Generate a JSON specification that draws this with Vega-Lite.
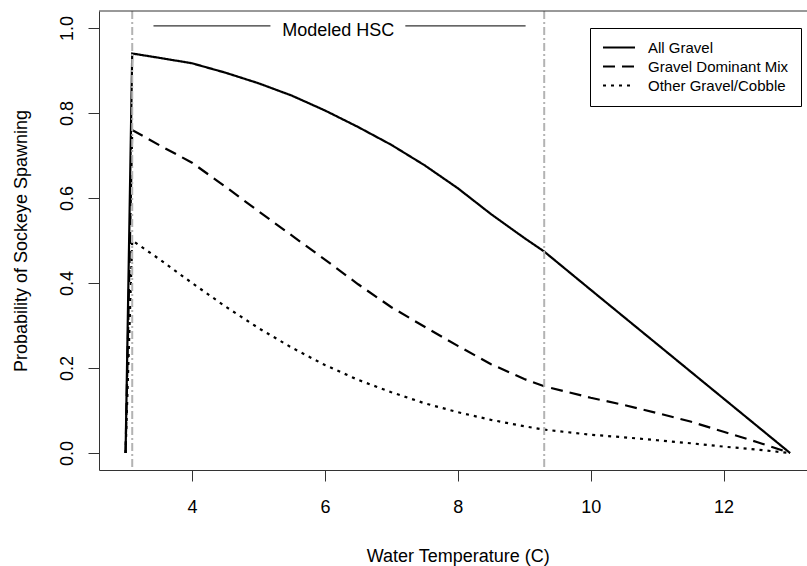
{
  "$schema": "https://vega.github.io/schema/vega-lite/v6.json",
  "width": 708,
  "height": 459,
  "autosize": {"type": "none"},
  "padding": {"left": 99, "top": 11, "right": 0, "bottom": 96},
  "background": "white",
  "config": {
    "view": {"stroke": null},
    "font": "Liberation Sans",
    "axis": {
      "domainColor": "#333333",
      "tickColor": "#333333",
      "labelColor": "black",
      "titleColor": "black",
      "labelFont": "Liberation Sans",
      "titleFont": "Liberation Sans",
      "labelFontSize": 18,
      "titleFontSize": 18,
      "titleFontWeight": "normal",
      "tickSize": 11,
      "grid": false
    },
    "legend": {"labelFont": "Liberation Sans"}
  },
  "datasets": {
    "curves": [
      {"temp": 3.0, "prob": 0.0, "series": "All Gravel"},
      {"temp": 3.1, "prob": 0.94, "series": "All Gravel"},
      {"temp": 3.5, "prob": 0.93, "series": "All Gravel"},
      {"temp": 4.0, "prob": 0.917, "series": "All Gravel"},
      {"temp": 4.5, "prob": 0.895, "series": "All Gravel"},
      {"temp": 5.0, "prob": 0.87, "series": "All Gravel"},
      {"temp": 5.5, "prob": 0.841, "series": "All Gravel"},
      {"temp": 6.0, "prob": 0.806, "series": "All Gravel"},
      {"temp": 6.5, "prob": 0.767, "series": "All Gravel"},
      {"temp": 7.0, "prob": 0.725, "series": "All Gravel"},
      {"temp": 7.5, "prob": 0.677, "series": "All Gravel"},
      {"temp": 8.0, "prob": 0.623, "series": "All Gravel"},
      {"temp": 8.5, "prob": 0.562, "series": "All Gravel"},
      {"temp": 9.0, "prob": 0.506, "series": "All Gravel"},
      {"temp": 9.3, "prob": 0.474, "series": "All Gravel"},
      {"temp": 10.0, "prob": 0.384, "series": "All Gravel"},
      {"temp": 11.0, "prob": 0.256, "series": "All Gravel"},
      {"temp": 12.0, "prob": 0.128, "series": "All Gravel"},
      {"temp": 13.0, "prob": 0.0, "series": "All Gravel"},
      {"temp": 3.0, "prob": 0.0, "series": "Gravel Dominant Mix"},
      {"temp": 3.1, "prob": 0.76, "series": "Gravel Dominant Mix"},
      {"temp": 3.5, "prob": 0.725, "series": "Gravel Dominant Mix"},
      {"temp": 4.0, "prob": 0.683, "series": "Gravel Dominant Mix"},
      {"temp": 4.5, "prob": 0.627, "series": "Gravel Dominant Mix"},
      {"temp": 5.0, "prob": 0.569, "series": "Gravel Dominant Mix"},
      {"temp": 5.5, "prob": 0.512, "series": "Gravel Dominant Mix"},
      {"temp": 6.0, "prob": 0.455, "series": "Gravel Dominant Mix"},
      {"temp": 6.5, "prob": 0.397, "series": "Gravel Dominant Mix"},
      {"temp": 7.0, "prob": 0.343, "series": "Gravel Dominant Mix"},
      {"temp": 7.5, "prob": 0.297, "series": "Gravel Dominant Mix"},
      {"temp": 8.0, "prob": 0.252, "series": "Gravel Dominant Mix"},
      {"temp": 8.5, "prob": 0.209, "series": "Gravel Dominant Mix"},
      {"temp": 9.0, "prob": 0.174, "series": "Gravel Dominant Mix"},
      {"temp": 9.3, "prob": 0.157, "series": "Gravel Dominant Mix"},
      {"temp": 10.0, "prob": 0.13, "series": "Gravel Dominant Mix"},
      {"temp": 10.5, "prob": 0.113, "series": "Gravel Dominant Mix"},
      {"temp": 11.0, "prob": 0.094, "series": "Gravel Dominant Mix"},
      {"temp": 11.5, "prob": 0.074, "series": "Gravel Dominant Mix"},
      {"temp": 12.0, "prob": 0.05, "series": "Gravel Dominant Mix"},
      {"temp": 12.5, "prob": 0.026, "series": "Gravel Dominant Mix"},
      {"temp": 13.0, "prob": 0.0, "series": "Gravel Dominant Mix"},
      {"temp": 3.0, "prob": 0.0, "series": "Other Gravel/Cobble"},
      {"temp": 3.1, "prob": 0.5, "series": "Other Gravel/Cobble"},
      {"temp": 3.5, "prob": 0.457, "series": "Other Gravel/Cobble"},
      {"temp": 4.0, "prob": 0.4, "series": "Other Gravel/Cobble"},
      {"temp": 4.5, "prob": 0.345, "series": "Other Gravel/Cobble"},
      {"temp": 5.0, "prob": 0.294, "series": "Other Gravel/Cobble"},
      {"temp": 5.5, "prob": 0.248, "series": "Other Gravel/Cobble"},
      {"temp": 6.0, "prob": 0.207, "series": "Other Gravel/Cobble"},
      {"temp": 6.5, "prob": 0.172, "series": "Other Gravel/Cobble"},
      {"temp": 7.0, "prob": 0.143, "series": "Other Gravel/Cobble"},
      {"temp": 7.5, "prob": 0.117, "series": "Other Gravel/Cobble"},
      {"temp": 8.0, "prob": 0.096, "series": "Other Gravel/Cobble"},
      {"temp": 8.5, "prob": 0.078, "series": "Other Gravel/Cobble"},
      {"temp": 9.0, "prob": 0.063, "series": "Other Gravel/Cobble"},
      {"temp": 9.3, "prob": 0.055, "series": "Other Gravel/Cobble"},
      {"temp": 10.0, "prob": 0.043, "series": "Other Gravel/Cobble"},
      {"temp": 10.5, "prob": 0.037, "series": "Other Gravel/Cobble"},
      {"temp": 11.0, "prob": 0.03, "series": "Other Gravel/Cobble"},
      {"temp": 11.5, "prob": 0.023, "series": "Other Gravel/Cobble"},
      {"temp": 12.0, "prob": 0.015, "series": "Other Gravel/Cobble"},
      {"temp": 12.5, "prob": 0.008, "series": "Other Gravel/Cobble"},
      {"temp": 13.0, "prob": 0.0, "series": "Other Gravel/Cobble"}
    ],
    "vlines": [{"temp": 3.1}, {"temp": 9.3}],
    "frametop": [{"prob": 1.04}],
    "segs": [
      {"temp": 3.42, "temp2": 5.18, "prob": 1.005},
      {"temp": 7.21, "temp2": 9.02, "prob": 1.005}
    ],
    "label": [{"temp": 6.2, "prob": 0.993, "text": "Modeled HSC"}]
  },
  "layer": [
    {
      "data": {"name": "curves"},
      "mark": {"type": "line", "color": "black", "strokeWidth": 2.2, "strokeCap": "butt"},
      "encoding": {
        "x": {
          "field": "temp", "type": "quantitative",
          "scale": {"domain": [2.6, 13.255], "nice": false, "zero": false},
          "axis": {
            "orient": "bottom",
            "values": [4, 6, 8, 10, 12],
            "format": "d",
            "labelPadding": 17,
            "labelFlush": false,
            "labelOverlap": false,
            "title": "Water Temperature (C)",
            "titleX": 358.7,
            "titleY": 91.5,
            "titleBaseline": "alphabetic",
            "titleAlign": "center"
          }
        },
        "y": {
          "field": "prob", "type": "quantitative",
          "scale": {"domain": [-0.04, 1.04], "nice": false, "zero": false},
          "axis": {
            "orient": "left",
            "values": [0, 0.2, 0.4, 0.6, 0.8, 1.0],
            "format": ".1f",
            "labelAngle": 270,
            "labelAlign": "center",
            "labelBaseline": "alphabetic",
            "labelPadding": 16,
            "labelFlush": false,
            "labelOverlap": false,
            "title": "Probability of Sockeye Spawning",
            "titleAngle": 270,
            "titleX": -73,
            "titleBaseline": "alphabetic",
            "titleAlign": "center"
          }
        },
        "strokeDash": {
          "field": "series", "type": "nominal",
          "scale": {
            "domain": ["All Gravel", "Gravel Dominant Mix", "Other Gravel/Cobble"],
            "range": [[1, 0], [12, 7], [3, 5]]
          },
          "legend": {
            "title": null,
            "orient": "none",
            "legendX": 491,
            "legendY": 17,
            "padding": 12,
            "strokeColor": "black",
            "fillColor": "white",
            "labelFontSize": 15,
            "labelColor": "black",
            "labelOffset": 12,
            "symbolType": "stroke",
            "symbolSize": 1024,
            "symbolStrokeWidth": 2,
            "symbolStrokeColor": "black",
            "clipHeight": 15,
            "rowPadding": 3
          }
        }
      }
    },
    {
      "data": {"name": "vlines"},
      "mark": {"type": "rule", "color": "#b3b3b3", "strokeWidth": 2, "strokeDash": [8, 3, 2, 3]},
      "encoding": {
        "x": {"field": "temp", "type": "quantitative"}
      }
    },
    {
      "data": {"name": "frametop"},
      "mark": {"type": "rule", "color": "#333333", "strokeWidth": 1},
      "encoding": {
        "y": {"field": "prob", "type": "quantitative"}
      }
    },
    {
      "data": {"name": "segs"},
      "mark": {"type": "rule", "color": "#333333", "strokeWidth": 1.3},
      "encoding": {
        "x": {"field": "temp", "type": "quantitative"},
        "x2": {"field": "temp2"},
        "y": {"field": "prob", "type": "quantitative"}
      }
    },
    {
      "data": {"name": "label"},
      "mark": {"type": "text", "fontSize": 18, "font": "Liberation Sans", "color": "black", "baseline": "middle", "align": "center"},
      "encoding": {
        "x": {"field": "temp", "type": "quantitative"},
        "y": {"field": "prob", "type": "quantitative"},
        "text": {"field": "text"}
      }
    }
  ]
}
